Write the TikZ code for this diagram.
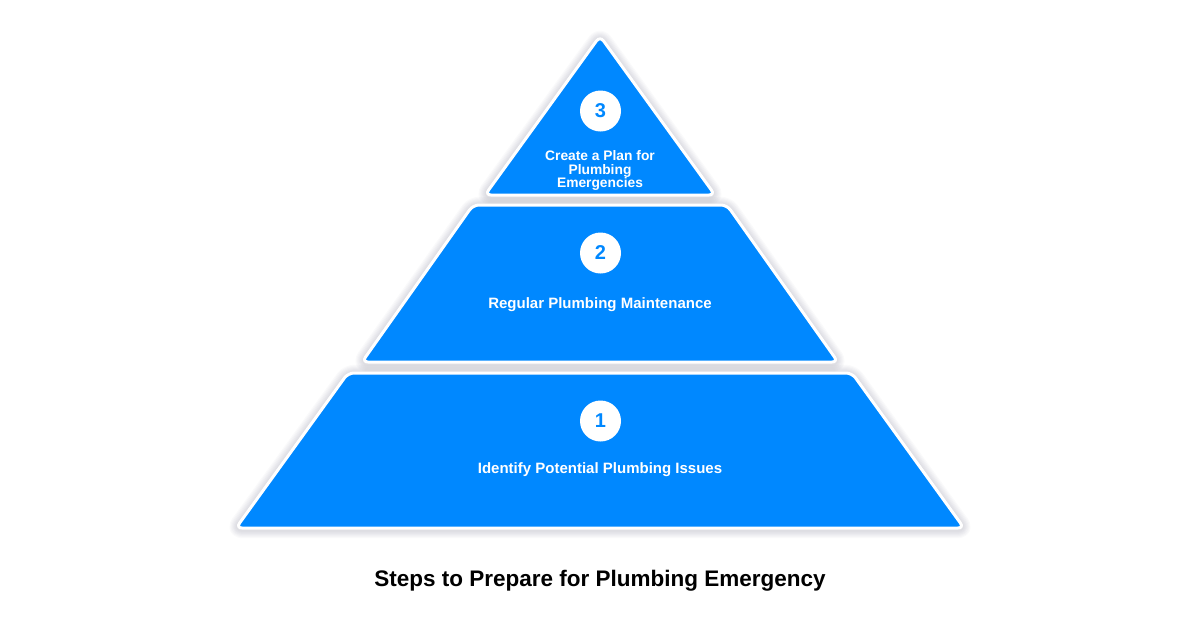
\documentclass[tikz,border=0pt]{standalone}
\usepackage{fontspec}
\setmainfont{Liberation Sans}
\definecolor{tierblue}{HTML}{0088FF}
\definecolor{halo}{HTML}{1A1A40}
\tikzset{
  tier/.style={fill=tierblue, draw=white, line width=3pt, rounded corners=6pt},
  numcirc/.style={circle, fill=white, minimum size=41pt, inner sep=0pt,
    font=\fontsize{20}{20}\selectfont\bfseries, text=tierblue},
  tierlabel/.style={text=white, font=\fontsize{15}{15}\selectfont\bfseries, align=center},
  title/.style={text=black, font=\fontsize{22.5}{26}\selectfont\bfseries}
}
\newcommand{\tiershape}[1]{%
  \foreach \k in {1,...,7}{%
    \draw[halo, opacity=0.018, line width=3pt+2.2pt*\k, rounded corners=6pt, line join=round, yshift=-1pt] #1;
  }%
  \path[tier] #1;%
}
\begin{document}
\begin{tikzpicture}[x=1pt,y=-1pt]
\useasboundingbox[fill=white] (0,0) rectangle (1200,630);
% tiers
\tiershape{(600,36) -- (715,195) -- (485,195) -- cycle}
\tiershape{(473,205) -- (727,205) -- (838,362) -- (362,362) -- cycle}
\tiershape{(348,373) -- (852,373) -- (964,528) -- (236,528) -- cycle}
% numbers
\node[numcirc] (n3) at (600.5,111) {3};
\node[numcirc] (n2) at (600.5,253) {2};
\node[numcirc] (n1) at (600.5,421) {1};
% labels
\node[tierlabel, font=\fontsize{13.8}{13.8}\selectfont\bfseries] (l3) at (600,170.5) {Create a Plan for\\Plumbing\\Emergencies};
\node[tierlabel] (l2) at (600,305) {Regular Plumbing Maintenance};
\node[tierlabel] (l1) at (600,470) {Identify Potential Plumbing Issues};
% title
\node[title] (t) at (600,581) {Steps to Prepare for Plumbing Emergency};
\end{tikzpicture}
\end{document}
